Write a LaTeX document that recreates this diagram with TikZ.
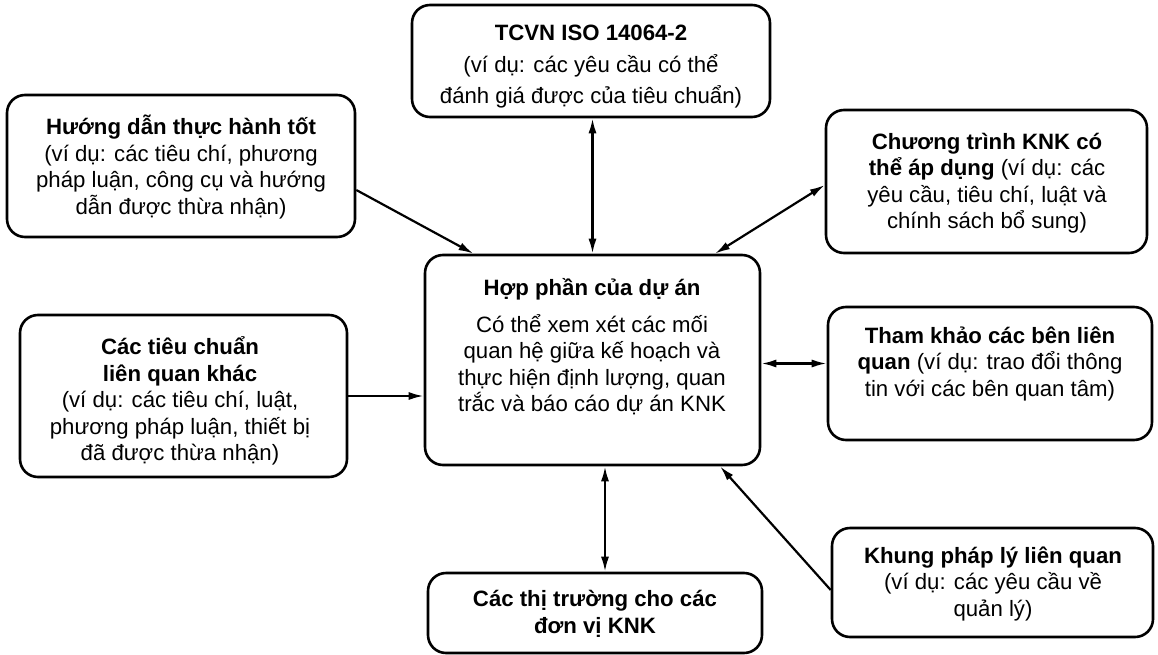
\documentclass[tikz,border=0pt]{standalone}
\usepackage{fontspec}
\setmainfont{Liberation Sans}
\usetikzlibrary{arrows.meta}
\begin{document}
\begin{tikzpicture}[x=1pt,y=-1pt,
  box/.style={draw, line width=2.6pt, rounded corners=18pt, inner sep=0pt},
  txt/.style={align=center, inner sep=0pt, font=\fontsize{22.2}{26.5}\selectfont},
  link/.style={line width=2.2pt, -{Latex[length=15pt,width=8pt]}},
  twoway/.style={line width=2.2pt, {Latex[length=15pt,width=8pt]}-{Latex[length=15pt,width=8pt]}}]
\useasboundingbox (0,0) rectangle (1158,655);

% frames
\node[box, minimum width=358pt, minimum height=112pt] (tcvn)   at (591,61)    {};
\node[box, minimum width=348pt, minimum height=142pt] (guide)  at (181,166)   {};
\node[box, minimum width=321pt, minimum height=143pt] (prog)   at (986.5,181.5) {};
\node[box, minimum width=327pt, minimum height=162pt] (std)    at (183.5,396) {};
\node[box, minimum width=335pt, minimum height=210pt] (core)   at (592.5,360) {};
\node[box, minimum width=324pt, minimum height=133pt] (stake)  at (990,373.5) {};
\node[box, minimum width=334pt, minimum height=80pt]  (market) at (595,613)   {};
\node[box, minimum width=321pt, minimum height=109pt] (legal)  at (992.5,582.5) {};

% texts
\node[txt, font=\fontsize{22.2}{31.5}\selectfont] (tcvn-t) at (591,67) {\textbf{TCVN ISO 14064-2}\\(ví dụ: các yêu cầu có thể\\đánh giá được của tiêu chuẩn)};
\node[txt] (guide-t) at (181,167) {\textbf{Hướng dẫn thực hành tốt}\\(ví dụ: các tiêu chí, phương\\pháp luận, công cụ và hướng\\dẫn được thừa nhận)};
\node[txt] (prog-t) at (987,183) {\textbf{Chương trình KNK có}\\\textbf{thể áp dụng} (ví dụ: các\\yêu cầu, tiêu chí, luật và\\chính sách bổ sung)};
\node[txt] (std-t) at (180,401) {\textbf{Các tiêu chuẩn}\\\textbf{liên quan khác}\\(ví dụ: các tiêu chí, luật,\\phương pháp luận, thiết bị\\đã được thừa nhận)};
\node[txt] (core-t) at (592,347) {\textbf{Hợp phần của dự án}\\[10pt]Có thể xem xét các mối\\quan hệ giữa kế hoạch và\\thực hiện định lượng, quan\\trắc và báo cáo dự án KNK};
\node[txt] (stake-t) at (990,364) {\textbf{Tham khảo các bên liên}\\\textbf{quan} (ví dụ: trao đổi thông\\tin với các bên quan tâm)};
\node[txt] (market-t) at (595,614) {\textbf{Các thị trường cho các}\\\textbf{đơn vị KNK}};
\node[txt] (legal-t) at (993,584) {\textbf{Khung pháp lý liên quan}\\(ví dụ: các yêu cầu về\\quản lý)};

% connectors
\draw[twoway] ([xshift=1.5pt]tcvn.south) -- ([xshift=1.5pt]tcvn.south |- core.north);
\draw[link] ([yshift=-24pt]guide.east) -- ([xshift=-119pt]core.north);
\draw[twoway] ([yshift=-3.5pt]prog.west) -- ([xshift=122.5pt]core.north);
\draw[link] (std.east) -- (std.east -| core.west);
\draw[twoway] ([yshift=-3.5pt]core.east) -- ([yshift=-3.5pt]core.east -| stake.west);
\draw[twoway] ([xshift=10pt]market.north) -- ([xshift=10pt]market.north |- core.south);
\draw[link] ([yshift=-7.5pt]legal.west) -- ([xshift=127.5pt]core.south);
\end{tikzpicture}
\end{document}
